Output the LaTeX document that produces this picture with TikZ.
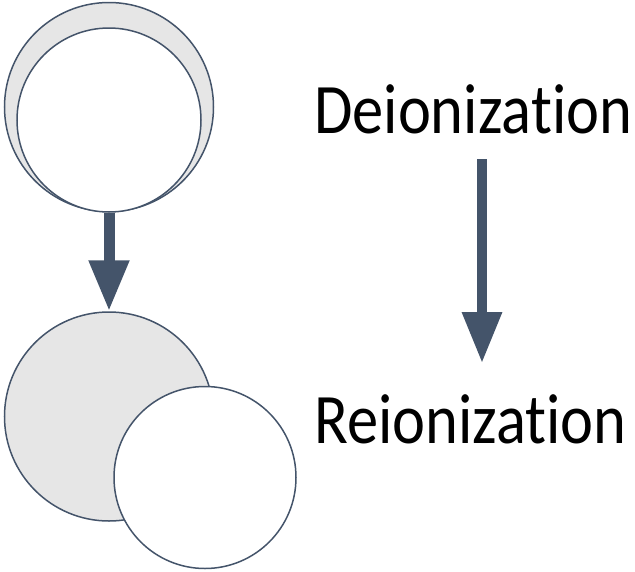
\documentclass[tikz,border=0pt]{standalone}
\usepackage{fontspec}
\setmainfont[Ligatures={NoCommon,NoRare,NoDiscretionary}]{Carlito}
\usetikzlibrary{arrows.meta}
\definecolor{slate}{HTML}{44546A}
\definecolor{shade}{HTML}{E6E6E6}
\newcommand{\narrow}[1]{\scalebox{0.88}[1]{#1}}
\tikzset{
  bubble/.style={circle, draw=slate, line width=1.5pt, inner sep=0pt, minimum size=#1},
  grey bubble/.style={bubble=#1, fill=shade},
  white bubble/.style={bubble=#1, fill=white},
  label text/.style={font=\fontsize{71pt}{80pt}\selectfont, inner sep=0pt, anchor=base west},
  thick arrow/.style={draw=slate, line width=#1, -{Triangle[width=38pt, length=51pt]}},
}
\begin{document}
\begin{tikzpicture}[x=1pt, y=-1pt]
  \useasboundingbox (0,0) rectangle (635,571);
  % upper pair of discs
  \node[grey bubble=209pt] (outerA) at (109,107) {};
  \node[white bubble=184pt] (innerA) at (109,120) {};
  % lower pair of discs
  \node[grey bubble=209pt] (outerB) at (109,416.5) {};
  \node[white bubble=182pt] (innerB) at (205,477.5) {};
  % transition arrow between the discs
  \draw[thick arrow=11pt] (innerA.south) -- (outerB.north);
  % stage labels
  \node[label text] (deion) at (314,133) {\narrow{Deionization}};
  \node[label text] (reion) at (314,443) {\narrow{Reionization}};
  \coordinate (arrowTop) at (482,159);
  \coordinate (arrowTip) at (482,363);
  \draw[thick arrow=9.5pt] (arrowTop) -- (arrowTip);
\end{tikzpicture}
\end{document}
